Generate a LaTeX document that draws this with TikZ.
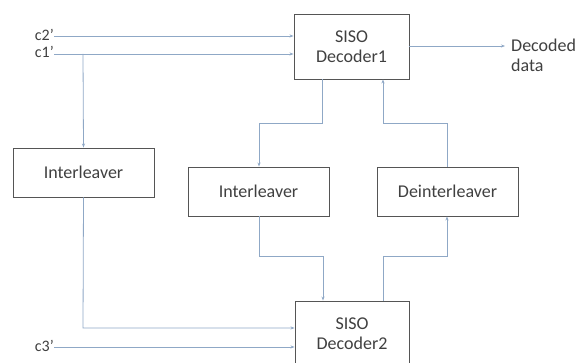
\documentclass[tikz,border=0pt]{standalone}
\usepackage{fontspec}
\setmainfont{Carlito}
\usetikzlibrary{arrows.meta}
\definecolor{linec}{HTML}{8FA8C6}
\definecolor{boxc}{HTML}{555555}
\definecolor{txtc}{HTML}{404040}
\begin{document}
\begin{tikzpicture}[x=1pt,y=-1pt,
  blk/.style={draw=boxc,line width=0.9pt,fill=white,inner sep=0pt,text=txtc,font=\fontsize{18}{20}\selectfont,align=center},
  conn/.style={draw=linec,line width=0.8pt,-{Stealth[length=4pt,width=3pt]}},
  lbl/.style={inner sep=0pt,text=txtc,font=\fontsize{18}{20}\selectfont,align=left},
  clbl/.style={inner sep=0pt,text=txtc,font=\fontsize{16}{17}\selectfont}]
\useasboundingbox (0,0) rectangle (582,363);
% boxes
\node[blk,minimum width=115pt,minimum height=65pt] (dec1) at (351.5,46.5) {SISO\\Decoder1};
\node[blk,minimum width=114pt,minimum height=65pt] (dec2) at (352,333.5) {SISO\\Decoder2};
\node[blk,minimum width=141pt,minimum height=49pt] (int1) at (83.5,172.5) {Interleaver};
\node[blk,minimum width=141pt,minimum height=49pt] (int2) at (258.5,191.5) {Interleaver};
\node[blk,minimum width=141pt,minimum height=49pt] (deint) at (447.5,191.5) {Deinterleaver};
% labels
\node[clbl,anchor=east] (c2) at (54,35) {c2’};
\node[clbl,anchor=east] (c1) at (54,52) {c1’};
\node[clbl,anchor=east] (c3) at (54,346) {c3’};
\node[lbl,anchor=west] (out) at (511,55) {Decoded\\data};
% coordinates
\coordinate (split) at (83,54);
% connectors
\draw[conn] (c2.east |- 0,36) -- (0,36 -| dec1.west);
\draw[conn] (c1.east |- split) -- (split -| dec1.west);
\draw[conn] (split) -- (int1.north);
\draw[conn] (int1.south) -- (83,328) -- (0,328 -| dec2.west);
\draw[conn] (c3.east |- 0,347) -- (0,347 -| dec2.west);
\draw[conn] (dec1.east |- 0,46) -- (505,46);
\draw[conn] (dec1.south -| 322,0) -- (322,123) -- (259,123) -- (int2.north -| 259,0);
\draw[conn] (deint.north -| 447,0) -- (447,123) -- (383,123) -- (dec1.south -| 383,0);
\draw[conn] (int2.south -| 259,0) -- (259,256) -- (323,256) -- (dec2.north -| 323,0);
\draw[conn] (dec2.north -| 383,0) -- (383,256) -- (447,256) -- (deint.south -| 447,0);
\end{tikzpicture}
\end{document}
